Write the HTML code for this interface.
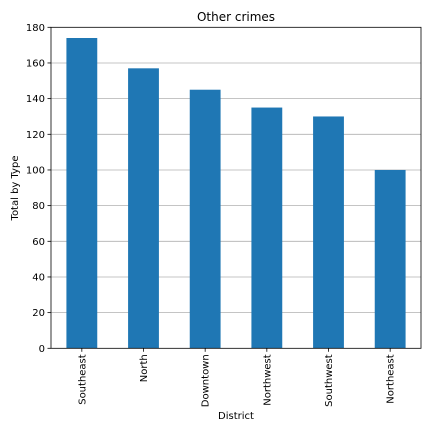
<!DOCTYPE html>
<html><head><meta charset="utf-8"><style>
body{margin:0;background:#fff;}
svg{display:block;font-family:"DejaVu Sans","Liberation Sans",sans-serif;}
</style></head><body>
<svg id="chart" width="432" height="432">
<text x="236" y="21" font-size="12" text-anchor="middle">Other crimes</text>
<g id="grid"></g><g id="bars"></g><g id="axes"></g>
<text x="236" y="419" font-size="10" text-anchor="middle">District</text>
<text transform="translate(18,188) rotate(-90)" font-size="10" text-anchor="middle">Total by Type</text>
</svg>
<script>
const categories=["Southeast","North","Downtown","Northwest","Southwest","Northeast"];
const values=[174,157,145,135,130,100];
const yTicks=[0,20,40,60,80,100,120,140,160,180];
const NS="http://www.w3.org/2000/svg";
const L=51,R=421,T=27.3,B=348.3,YMAX=180;
const y=v=>B-(v/YMAX)*(B-T);
const step=(R-L)/categories.length;
const x=i=>L+step*(i+0.5);
function mk(t,a,p){const e=document.createElementNS(NS,t);for(const k in a)e.setAttribute(k,a[k]);p.appendChild(e);return e;}
const grid=document.getElementById('grid'),bars=document.getElementById('bars'),axes=document.getElementById('axes');
yTicks.forEach(v=>{
 if(v>0&&v<YMAX){const g=mk('line',{x1:L,x2:R,y1:y(v),y2:y(v),stroke:'#b0b0b0','stroke-width':0.8},grid);
 
 }
 const tk=mk('line',{x1:L-3.5,x2:L,y1:y(v),y2:y(v),stroke:'#000','stroke-width':0.8},axes);
 
 
 const t=mk('text',{x:L-6,y:y(v)+3.5,'font-size':10,'text-anchor':'end'},axes);t.textContent=v;
 
 
});
categories.forEach((c,i)=>{
 const w=step*0.5;
 const r=mk('rect',{x:x(i)-w/2,y:y(values[i]),width:w,height:B-y(values[i]),fill:'#1f77b4'},bars);
 
 
 const tk=mk('line',{x1:x(i),x2:x(i),y1:B,y2:B+3.5,stroke:'#000','stroke-width':0.8},axes);
 
 
 const t=mk('text',{transform:`translate(${x(i)+3.5},${B+6}) rotate(-90)`,'font-size':10,'text-anchor':'end'},axes);t.textContent=c;
 
 
});
const f=mk('rect',{x:L,y:T,width:R-L,height:B-T,fill:'none',stroke:'#000','stroke-width':0.8},axes);


</script>
</body></html>
